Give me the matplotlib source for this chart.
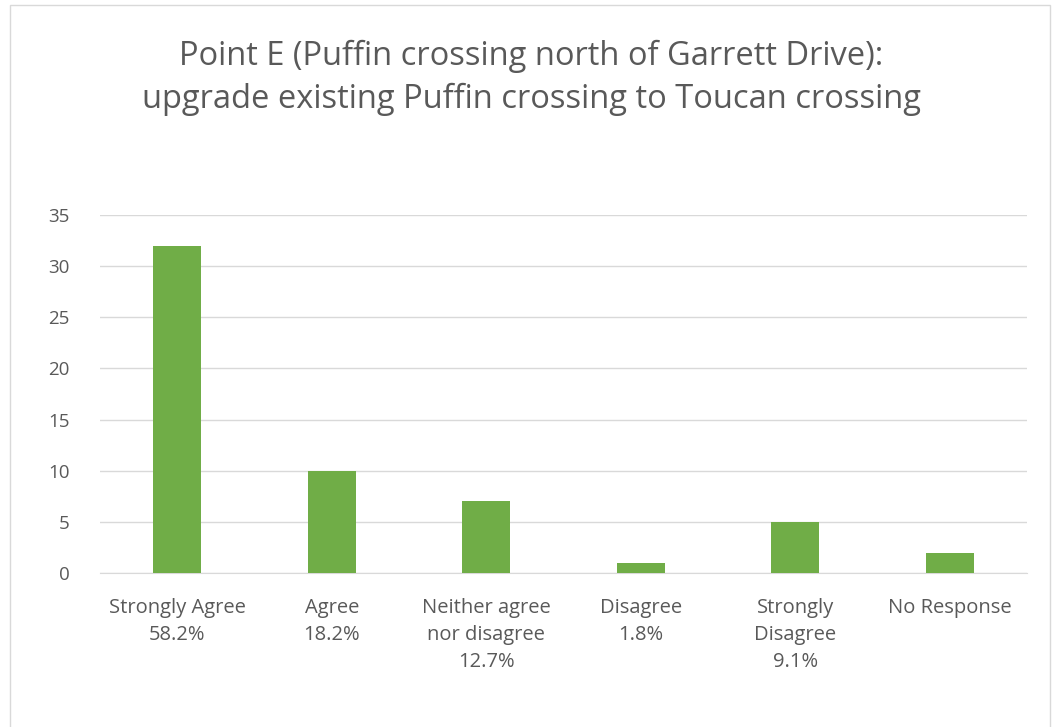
import numpy as np
import matplotlib.pyplot as plt
from matplotlib.patches import Rectangle

categories = ['Strongly Agree\n58.2%', 'Agree\n18.2%', 'Neither agree\nnor disagree\n12.7%',
              'Disagree\n1.8%', 'Strongly\nDisagree\n9.1%', 'No Response']
counts = [32, 10, 7, 1, 5, 2]
title = 'Point E (Puffin crossing north of Garrett Drive):\nupgrade existing Puffin crossing to Toucan crossing'

plt.rcParams['font.family'] = ['Open Sans', 'DejaVu Sans']
text_col = '#595959'

fig = plt.figure(figsize=(10.62, 7.27), dpi=100)
ax = fig.add_axes([0.0942, 0.2118, 0.873, 0.4925])

x = np.arange(len(categories))
ax.bar(x, counts, width=0.31, color='#70ad47', zorder=3)

ax.set_xlim(-0.5, len(categories) - 0.5)
ax.set_ylim(0, 35)
ax.set_yticks(np.arange(0, 36, 5))
ax.set_xticks(x)
ax.set_xticklabels(categories, fontsize=14.5, color=text_col, linespacing=1.45)
ax.tick_params(axis='y', labelsize=13.5, labelcolor=text_col, length=0, pad=22)
ax.tick_params(axis='x', length=0, pad=18)
ax.grid(axis='y', color='#d9d9d9', linewidth=1, zorder=0)
for s in ['top', 'right', 'left']:
    ax.spines[s].set_visible(False)
ax.spines['bottom'].set_color('#d9d9d9')

fig.text(0.5, 0.893, title, ha='center', va='center', fontsize=23.5, color=text_col, linespacing=1.4)

# chart frame
fig.patches.append(Rectangle((0.009, -0.01), 0.98, 1.003, transform=fig.transFigure,
                             fill=False, edgecolor='#d9d9d9', linewidth=1))

fig.savefig('out.png')
